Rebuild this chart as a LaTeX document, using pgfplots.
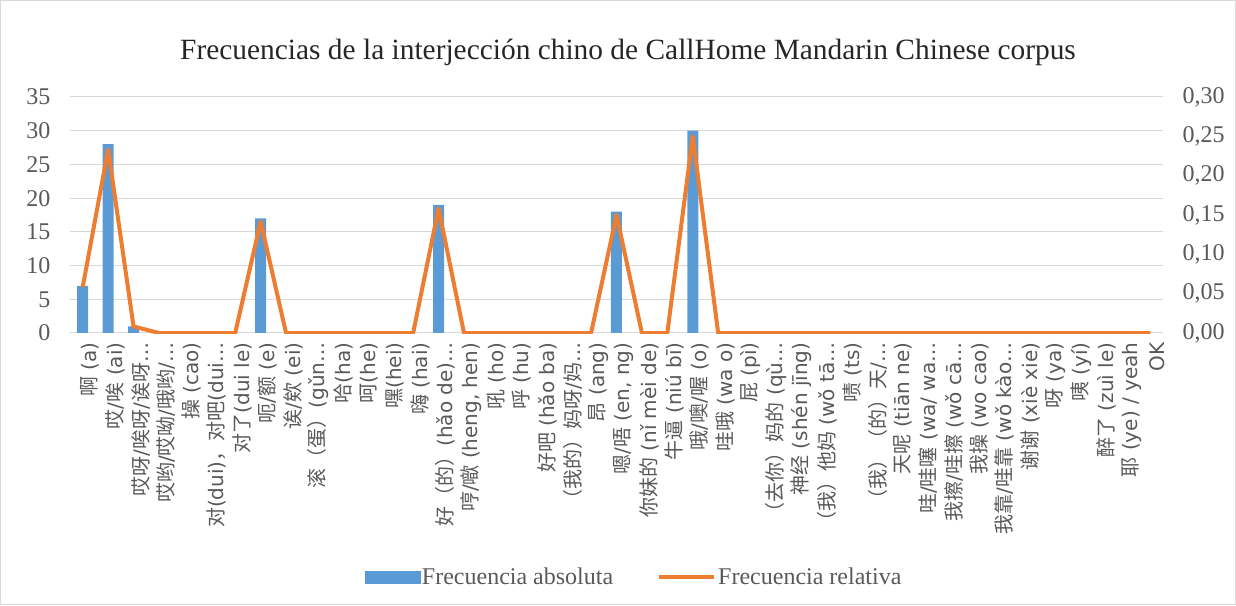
\documentclass[border=0pt]{standalone}
\usepackage{pgfplots}
\pgfplotsset{compat=1.18}
\usepackage{fontspec}
\setmainfont{Liberation Serif}
\newfontfamily\cjk{Noto Sans CJK SC}
\newfontfamily\latlab{DejaVu Sans}
\definecolor{barblue}{HTML}{5B9BD5}
\definecolor{lineorange}{HTML}{ED7D31}
\definecolor{gridgrey}{HTML}{D9D9D9}
\definecolor{textgrey}{HTML}{595959}
% switch fonts automatically between CJK and Latin runs
\newXeTeXintercharclass\CJKcls
\newcount\cc
\cc="3000
\loop \XeTeXcharclass\cc=\CJKcls \advance\cc by 1 \ifnum\cc<"A000 \repeat
\cc="FF00
\loop \XeTeXcharclass\cc=\CJKcls \advance\cc by 1 \ifnum\cc<"FFF0 \repeat
\XeTeXinterchartoks 0 \CJKcls = {\cjk}
\XeTeXinterchartoks 4095 \CJKcls = {\cjk}
\XeTeXinterchartoks \CJKcls 0 = {\latlab}
\XeTeXinterchartoks \CJKcls 4095 = {\latlab}
\begin{document}
\XeTeXinterchartokenstate=1
\begin{tikzpicture}
\useasboundingbox (0pt,0pt) rectangle (1236pt,605pt);
\draw[gridgrey, line width=1pt] (0.5pt,0.5pt) rectangle (1235.5pt,604.5pt);
\node[font=\fontsize{29.4}{29.4}\selectfont, text=black!85] at (628pt,553pt) {Frecuencias de la interjección chino de CallHome Mandarin Chinese corpus};
\begin{axis}[
  at={(70pt,272pt)}, anchor=south west, scale only axis,
  width=1093pt, height=236pt,
  xmin=-0.5, xmax=42.5, ymin=0, ymax=35,
  ytick={0,5,...,35},
  xtick={0,...,42},
  ymajorgrids, grid style={gridgrey, line width=1pt},
  axis line style={draw=none},
  major tick length=0pt,
  /pgf/number format/assume math mode=true,
  ticklabel style={font=\fontsize{24}{24}\selectfont, text=textgrey},
  yticklabel style={xshift=-16pt},
  xticklabel style={xshift=7pt, yshift=-6pt, rotate=90, anchor=east, font=\fontsize{20}{20}\selectfont\latlab},
  xticklabels={
    {啊 (a)},
    {哎/唉 (ai)},
    {哎呀/唉呀/诶呀…},
    {哎哟/哎呦/哦哟/…},
    {操 (cao)},
    {对(dui)，对吧(dui…},
    {对了(dui le)},
    {呃/额 (e)},
    {诶/欸 (ei)},
    {滚（蛋）(gǔn…},
    {哈(ha)},
    {呵(he)},
    {嘿(hei)},
    {嗨 (hai)},
    {好（的）(hǎo de)…},
    {哼/噷 (heng, hen)},
    {吼 (ho)},
    {呼 (hu)},
    {好吧 (hǎo ba)},
    {（我的）妈呀/妈…},
    {昂 (ang)},
    {嗯/唔 (en, ng)},
    {你妹的 (nǐ mèi de)},
    {牛逼 (niú bī)},
    {哦/噢/喔 (o)},
    {哇哦 (wa o)},
    {屁 (pì)},
    {（去你）妈的 (qù…},
    {神经 (shén jīng)},
    {（我）他妈 (wǒ tā…},
    {啧 (ts)},
    {（我）（的）天/…},
    {天呢 (tiān ne)},
    {哇/哇噻 (wa/ wa…},
    {我擦/哇擦 (wǒ cā…},
    {我操 (wo cao)},
    {我靠/哇靠 (wǒ kào…},
    {谢谢 (xiè xie)},
    {呀 (ya)},
    {咦 (yí)},
    {醉了 (zuì le)},
    {耶 (ye) / yeah},
    {OK}
  },
]
\addplot[ybar, bar width=11pt, fill=barblue, draw=none] coordinates {
  (0,7) (1,28) (2,1) (7,17) (14,19) (21,18) (24,30)
};
\end{axis}
\begin{axis}[
  at={(70pt,272pt)}, anchor=south west, scale only axis,
  width=1093pt, height=236pt,
  xmin=-0.5, xmax=42.5, ymin=0, ymax=0.30,
  ytick={0,0.05,0.10,0.15,0.20,0.25,0.30},
  hide x axis,
  axis line style={draw=none},
  major tick length=0pt,
  yticklabel pos=right,
  /pgf/number format/assume math mode=true,
  /pgf/number format/.cd, fixed, fixed zerofill, precision=2, use comma, /pgfplots/.cd,
  ticklabel style={font=\fontsize{24}{24}\selectfont, text=textgrey},
  yticklabel style={xshift=16pt},
  legend style={at={(0.516,-1.034)}, anchor=center, draw=none, fill=none,
    legend columns=2, font=\fontsize{24}{24}\selectfont, text=textgrey,
    /tikz/every even column/.append style={column sep=42pt}},
]
\addlegendimage{legend image code/.code={\fill[barblue] (0pt,-6pt) rectangle (55pt,6pt);}}
\addlegendentry{Frecuencia absoluta}
\addplot[lineorange, line width=4pt, line join=round, mark=none,
  legend image code/.code={\draw[lineorange, line width=4pt] (0pt,0pt) -- (55pt,0pt);}] coordinates {
  (0,0.0583) (1,0.2333) (2,0.0083) (3,0) (4,0) (5,0) (6,0) (7,0.1417)
  (8,0) (9,0) (10,0) (11,0) (12,0) (13,0) (14,0.1583) (15,0) (16,0)
  (17,0) (18,0) (19,0) (20,0) (21,0.15) (22,0) (23,0) (24,0.25)
  (25,0) (26,0) (27,0) (28,0) (29,0) (30,0) (31,0) (32,0) (33,0)
  (34,0) (35,0) (36,0) (37,0) (38,0) (39,0) (40,0) (41,0) (42,0)
};
\addlegendentry{Frecuencia relativa}
\end{axis}
\end{tikzpicture}
\end{document}
